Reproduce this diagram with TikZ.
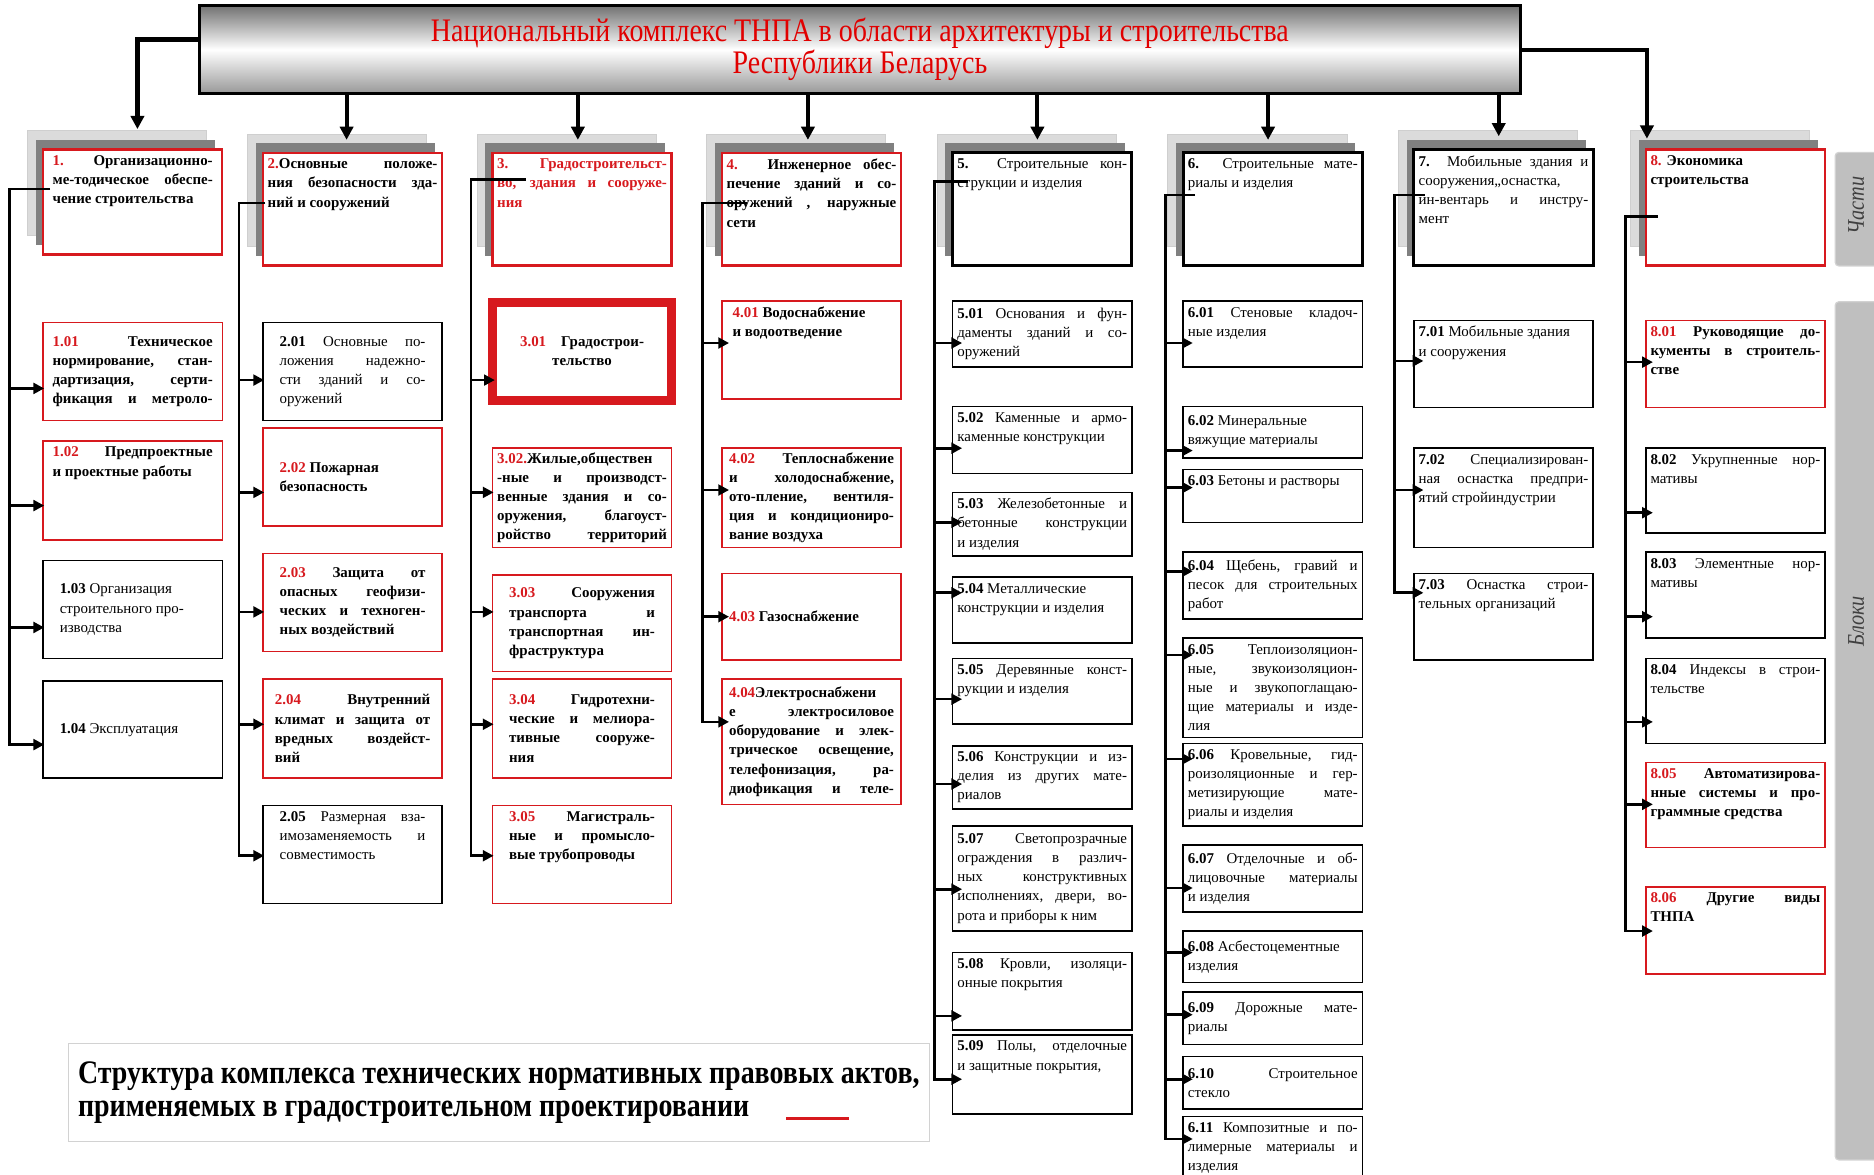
\documentclass[tikz,border=0pt]{standalone}
\usepackage{fontspec}
\setmainfont{Liberation Serif}
\newfontfamily\narrowfont[FakeStretch=0.85]{Liberation Serif}
\usetikzlibrary{positioning,arrows.meta,shadows}
\definecolor{tnred}{RGB}{215,25,30}
\definecolor{titlered}{RGB}{225,0,0}
\newcommand\rn[1]{\textcolor{tnred}{\textbf{#1}}}
\newcommand\bx[8][t]{\node[#2] (#3) at (#4,#5) {\parbox[c][\dimexpr#6pt-10pt\relax][#1]{142pt}{\leftskip=#7pt \rightskip=#7pt \tolerance=10000 \hyphenpenalty=10000 \exhyphenpenalty=10000 \relax #8}};}

\begin{document}
\begin{tikzpicture}[x=1pt,y=-1pt,
    redbox/.style={draw=tnred, line width=1.3pt, fill=white, anchor=north west, outer sep=0pt, inner xsep=4pt, inner ysep=5pt, font=\fontsize{12.5}{16}\selectfont\bfseries},
    blackbox/.style={redbox, draw=black, font=\fontsize{12.5}{16}\selectfont},
    headshadow/.style={copy shadow={shadow xshift=-13pt, shadow yshift=16pt, fill=gray!28, draw=gray!38, line width=0.6pt}, copy shadow={shadow xshift=-6pt, shadow yshift=8pt, fill=gray, draw=none}},
    redhead/.style={redbox, line width=2pt, headshadow},
    blackhead/.style={blackbox, line width=2.5pt, headshadow},
    title/.style={draw=black, line width=2.5pt, top color=black!55, bottom color=black!40, middle color=white, minimum width=1105pt, minimum height=73pt, outer sep=0pt, align=center, text=titlered, font=\narrowfont\fontsize{27.5}{25}\selectfont},
    main/.style={line width=3.5pt, -{Triangle[length=11pt,width=11pt]}},
    feed/.style={line width=2.2pt, -{Triangle[length=9pt,width=9pt]}},
    tab/.style={draw=gray!35, line width=1pt, fill=gray!50, rounded corners=3pt, anchor=north west, minimum width=38pt},
    tabtext/.style={rotate=90, text=black!75, font=\narrowfont\itshape\fontsize{20}{20}\selectfont}]

    \useasboundingbox (0,0) rectangle (1568,983);

    \node[title] (title) at (719.5,41.5) {Национальный комплекс ТНПА в области архитектуры и строительства\\Республики Беларусь};

    \node[tab, minimum height=95pt] (partstab) at (1535,127) {};
    \node[tabtext] (partslbl) at (1553,172) {Части};
    \node[tab, minimum height=718pt] (blockstab) at (1535,252) {};
    \node[tabtext] (blockslbl) at (1553,520) {Блоки};

    \bx{redhead}{b1}{36}{125}{88}{4}{\rn{1.} Организационно-\linebreak ме-тодическое обеспе-\linebreak чение строительства}
    \bx{redhead}{b2}{220}{128}{94}{0}{\rn{2.}Основные положе-\linebreak ния безопасности зда-\linebreak ний и сооружений}
    \bx{redhead}{b3}{412}{128}{94}{0}{\color{tnred}3. Градостроительст-\linebreak во, здания и сооруже-\linebreak ния}
    \bx{redhead}{b4}{604}{128}{94}{0}{\rn{4.} Инженерное обес-\linebreak печение зданий и со-\linebreak оружений , наружные\linebreak сети}
    \bx{blackhead}{b5}{797}{128}{94}{0}{\textbf{5.} Строительные кон-\linebreak струкции и изделия}
    \bx{blackhead}{b6}{990}{128}{94}{0}{\textbf{6.} Строительные мате-\linebreak риалы и изделия}
    \bx{blackhead}{b7}{1183}{125}{97}{0}{\textbf{7.} Мобильные здания и\linebreak сооружения,,оснастка,\linebreak ин-вентарь и инстру-\linebreak мент}
    \bx{redhead}{b8}{1377}{125}{97}{0}{\rn{8.} Экономика\newline строительства}

    \bx[c]{redbox}{b101}{36}{270}{82}{4}{\parfillskip=0pt \rn{1.01} Техническое\linebreak нормирование, стан-\linebreak дартизация, серти-\linebreak фикация и метроло-}
    \bx{redbox}{b102}{36}{369}{83}{4}{\rn{1.02} Предпроектные\linebreak и проектные работы}
    \bx[c]{blackbox}{b103}{36}{469}{82}{10}{\textbf{1.03} Организация\newline строительного про-\newline изводства}
    \bx[c]{blackbox}{b104}{36}{570}{81}{10}{\textbf{1.04} Эксплуатация}

    \bx[c]{blackbox}{b201}{220}{270}{82}{10}{\textbf{2.01} Основные по-\linebreak ложения надежно-\linebreak сти зданий и со-\linebreak оружений}
    \bx[c]{redbox}{b202}{220}{358}{82}{10}{\rn{2.02} Пожарная\newline безопасность}
    \bx[c]{redbox}{b203}{220}{463}{82}{10}{\rn{2.03} Защита от\linebreak опасных геофизи-\linebreak ческих и техноген-\linebreak ных воздействий}
    \bx[c]{redbox}{b204}{220}{568}{83}{6}{\rn{2.04} Внутренний\linebreak климат и защита от\linebreak вредных воздейст-\linebreak вий}
    \bx{blackbox}{b205}{220}{674}{82}{10}{\textbf{2.05} Размерная вза-\linebreak имозаменяемость и\linebreak совместимость}

    \bx[c]{redbox, line width=8pt}{b301}{412}{253}{82}{0}{\centering\rn{3.01}\quad Градострои-\\тельство}
    \bx[c]{redbox}{b302}{412}{375}{83}{0}{\parfillskip=0pt \rn{3.02.}Жилые,обществен\linebreak -ные и производст-\linebreak венные здания и со-\linebreak оружения, благоуст-\linebreak ройство территорий}
    \bx[c]{redbox}{b303}{412}{481}{81}{10}{\rn{3.03} Сооружения\linebreak транспорта и\linebreak транспортная ин-\linebreak фраструктура}
    \bx[c]{redbox}{b304}{412}{568}{83}{10}{\rn{3.04} Гидротехни-\linebreak ческие и мелиора-\linebreak тивные сооруже-\linebreak ния}
    \bx{redbox}{b305}{412}{674}{82}{10}{\rn{3.05} Магистраль-\linebreak ные и промысло-\linebreak вые трубопроводы}

    \bx{redbox}{b401}{604}{252}{82}{5}{\rn{4.01} Водоснабжение\newline и водоотведение}
    \bx[c]{redbox}{b402}{604}{375}{83}{2}{\rn{4.02} Теплоснабжение\linebreak и холодоснабжение,\linebreak ото-пление, вентиля-\linebreak ция и кондициониро-\linebreak вание воздуха}
    \bx[c]{redbox}{b403}{604}{480}{72}{2}{\rn{4.03} Газоснабжение}
    \bx[c]{redbox}{b404}{604}{568}{105}{2}{\parfillskip=0pt \rn{4.04}Электроснабжени\linebreak е электросиловое\linebreak оборудование и элек-\linebreak трическое освещение,\linebreak телефонизация, ра-\linebreak диофикация и теле-}

    \bx[c]{blackbox}{b501}{797}{252}{55}{0}{\textbf{5.01} Основания и фун-\linebreak даменты зданий и со-\linebreak оружений}
    \bx{blackbox}{b502}{797}{340}{56}{0}{\textbf{5.02} Каменные и армо-\linebreak каменные конструкции}
    \bx[c]{blackbox}{b503}{797}{412}{53}{0}{\textbf{5.03} Железобетонные и\linebreak бетонные конструкции\linebreak и изделия}
    \bx{blackbox}{b504}{797}{483}{55}{0}{\textbf{5.04} Металлические\newline конструкции и изделия}
    \bx{blackbox}{b505}{797}{551}{55}{0}{\textbf{5.05} Деревянные конст-\linebreak рукции и изделия}
    \bx[c]{blackbox}{b506}{797}{624}{53}{0}{\textbf{5.06} Конструкции и из-\linebreak делия из других мате-\linebreak риалов}
    \bx[c]{blackbox}{b507}{797}{691}{88}{0}{\textbf{5.07} Светопрозрачные\linebreak ограждения в различ-\linebreak ных конструктивных\linebreak исполнениях, двери, во-\linebreak рота и приборы к ним}
    \bx{blackbox}{b508}{797}{797}{65}{0}{\textbf{5.08} Кровли, изоляци-\linebreak онные покрытия}
    \bx{blackbox}{b509}{797}{866}{66}{0}{\textbf{5.09} Полы, отделочные\linebreak и защитные покрытия,}

    \bx{blackbox}{b601}{990}{252}{55}{0}{\textbf{6.01} Стеновые кладоч-\linebreak ные изделия}
    \bx[c]{blackbox}{b602}{990}{340}{43}{0}{\textbf{6.02} Минеральные\newline вяжущие материалы}
    \bx{blackbox}{b603}{990}{393}{44}{0}{\textbf{6.03} Бетоны и растворы}
    \bx[c]{blackbox}{b604}{990}{462}{56}{0}{\textbf{6.04} Щебень, гравий и\linebreak песок для строительных\linebreak работ}
    \bx[c]{blackbox}{b605}{990}{534}{83}{0}{\textbf{6.05} Теплоизоляцион-\linebreak ные, звукоизоляцион-\linebreak ные и звукопоглащаю-\linebreak щие материалы и изде-\linebreak лия}
    \bx[c]{blackbox}{b606}{990}{622}{69}{0}{\textbf{6.06} Кровельные, гид-\linebreak роизоляционные и гер-\linebreak метизирующие мате-\linebreak риалы и изделия}
    \bx[c]{blackbox}{b607}{990}{707}{56}{0}{\textbf{6.07} Отделочные и об-\linebreak лицовочные материалы\linebreak и изделия}
    \bx[c]{blackbox}{b608}{990}{779}{43}{0}{\textbf{6.08} Асбестоцементные\newline изделия}
    \bx[c]{blackbox}{b609}{990}{830}{44}{0}{\textbf{6.09} Дорожные мате-\linebreak риалы}
    \bx[c]{blackbox}{b610}{990}{884}{44}{0}{\textbf{6.10} Строительное\linebreak стекло}
    \bx{blackbox}{b611}{990}{934}{56}{0}{\textbf{6.11} Композитные и по-\linebreak лимерные материалы и\linebreak изделия}

    \bx{blackbox}{b701}{1183}{268}{73}{0}{\textbf{7.01} Мобильные здания\newline и сооружения}
    \bx{blackbox}{b702}{1183}{375}{83}{0}{\textbf{7.02} Специализирован-\linebreak ная оснастка предпри-\linebreak ятий стройиндустрии}
    \bx{blackbox}{b703}{1183}{480}{72}{0}{\textbf{7.03} Оснастка строи-\linebreak тельных организаций}

    \bx{redbox}{b801}{1377}{268}{73}{0}{\rn{8.01} Руководящие до-\linebreak кументы в строитель-\linebreak стве}
    \bx{blackbox}{b802}{1377}{375}{71}{0}{\textbf{8.02} Укрупненные нор-\linebreak мативы}
    \bx{blackbox}{b803}{1377}{462}{72}{0}{\textbf{8.03} Элементные нор-\linebreak мативы}
    \bx{blackbox}{b804}{1377}{551}{71}{0}{\textbf{8.04} Индексы в строи-\linebreak тельстве}
    \bx{redbox}{b805}{1377}{638}{71}{0}{\rn{8.05} Автоматизирова-\linebreak нные системы и про-\linebreak граммные средства}
    \bx{redbox}{b806}{1377}{742}{73}{0}{\rn{8.06} Другие виды\linebreak ТНПА}

    \node[draw=gray!35, line width=0.8pt, anchor=north west, minimum width=720pt, minimum height=82pt, align=left, font=\narrowfont\bfseries\fontsize{27.5}{28}\selectfont] (caption) at (57,873) {Структура комплекса технических нормативных правовых актов,\\применяемых в градостроительном проектировании};
    \draw[tnred, line width=2.5pt] (658,936) -- (710,936);

    \draw[main] ([yshift=8.5pt]title.west) -| ([xshift=4pt,yshift=17pt]b1.north);
    \draw[main] ([xshift=-5pt]b2.north |- title.south) -- ([xshift=-5pt,yshift=11pt]b2.north);
    \draw[main] ([xshift=-3.5pt]b3.north |- title.south) -- ([xshift=-3.5pt,yshift=11pt]b3.north);
    \draw[main] ([xshift=-3pt]b4.north |- title.south) -- ([xshift=-3pt,yshift=11pt]b4.north);
    \draw[main] ([xshift=-4pt]b5.north |- title.south) -- ([xshift=-4pt,yshift=11pt]b5.north);
    \draw[main] ([xshift=-4pt]b6.north |- title.south) -- ([xshift=-4pt,yshift=11pt]b6.north);
    \draw[main] ([xshift=-4pt]b7.north |- title.south) -- ([xshift=-4pt,yshift=11pt]b7.north);
    \draw[main] (title.east) -| ([xshift=1pt,yshift=9pt]b8.north west);

    \coordinate (k1) at (8,158);
    \coordinate (k2) at (200,170);
    \coordinate (k3) at (394,150);
    \coordinate (k4) at (588,170);
    \coordinate (k5) at (782,152);
    \coordinate (k6) at (975,163);
    \coordinate (k7) at (1167,163);
    \coordinate (k8) at (1360,181);

    \draw[feed] ([xshift=6pt]b1.west |- k1) -- (k1) |- ([xshift=1pt,yshift=-12.5pt]b104.west);
    \draw[feed] ([yshift=-14pt]b101.west -| k1) -- ([xshift=1pt,yshift=-14pt]b101.west);
    \draw[feed] ([yshift=-12.5pt]b102.west -| k1) -- ([xshift=1pt,yshift=-12.5pt]b102.west);
    \draw[feed] ([yshift=-15pt]b103.west -| k1) -- ([xshift=1pt,yshift=-15pt]b103.west);

    \draw[feed] ([xshift=2pt]b2.west |- k2) -- (k2) |- ([xshift=1pt,yshift=-1pt]b205.west);
    \draw[feed] ([yshift=-7pt]b201.west -| k2) -- ([xshift=1pt,yshift=-7pt]b201.west);
    \draw[feed] ([yshift=-13pt]b202.west -| k2) -- ([xshift=1pt,yshift=-13pt]b202.west);
    \draw[feed] ([yshift=-8pt]b203.west -| k2) -- ([xshift=1pt,yshift=-8pt]b203.west);
    \draw[feed] ([yshift=3.5pt]b204.west -| k2) -- ([xshift=1pt,yshift=3.5pt]b204.west);

    \draw[feed] ([xshift=28pt]b3.west |- k3) -- (k3) |- ([xshift=1pt,yshift=-1pt]b305.west);
    \draw[feed] ([yshift=-24pt]b301.west -| k3) -- ([xshift=2pt,yshift=-24pt]b301.west);
    \draw[feed] ([yshift=4.5pt]b302.west -| k3) -- ([xshift=1pt,yshift=4.5pt]b302.west);
    \draw[feed] ([yshift=9.5pt]b303.west -| k3) -- ([xshift=1pt,yshift=9.5pt]b303.west);
    \draw[feed] ([yshift=3.5pt]b304.west -| k3) -- ([xshift=1pt,yshift=3.5pt]b304.west);

    \draw[feed] ([xshift=21pt]b4.west |- k4) -- (k4) |- ([xshift=6pt,yshift=16.5pt]b404.west);
    \draw[feed] ([yshift=6pt]b401.west -| k4) -- ([xshift=6pt,yshift=6pt]b401.west);
    \draw[feed] ([yshift=6.5pt]b402.west -| k4) -- ([xshift=6pt,yshift=6.5pt]b402.west);
    \draw[feed] (b403.west -| k4) -- ([xshift=6pt]b403.west);

    \draw[feed] ([xshift=13pt]b5.west |- k5) -- (k5) |- ([xshift=8pt,yshift=-4pt]b509.west);
    \draw[feed] ([yshift=-7.5pt]b501.west -| k5) -- ([xshift=8pt,yshift=-7.5pt]b501.west);
    \draw[feed] ([yshift=-7pt]b502.west -| k5) -- ([xshift=8pt,yshift=-7pt]b502.west);
    \draw[feed] ([yshift=1.5pt]b503.west -| k5) -- ([xshift=8pt,yshift=1.5pt]b503.west);
    \draw[feed] ([yshift=14.5pt]b504.west -| k5) -- ([xshift=8pt,yshift=14.5pt]b504.west);
    \draw[feed] ([yshift=-6.5pt]b505.west -| k5) -- ([xshift=8pt,yshift=-6.5pt]b505.west);
    \draw[feed] ([yshift=-5.5pt]b506.west -| k5) -- ([xshift=8pt,yshift=-5.5pt]b506.west);
    \draw[feed] ([yshift=-9pt]b507.west -| k5) -- ([xshift=8pt,yshift=-9pt]b507.west);
    \draw[feed] ([yshift=-20.5pt]b508.west -| k5) -- ([xshift=8pt,yshift=-20.5pt]b508.west);

    \draw[feed] ([xshift=10pt]b6.west |- k6) -- (k6) |- ([xshift=8pt,yshift=9pt]b611.west);
    \draw[feed] ([yshift=-7.5pt]b601.west -| k6) -- ([xshift=8pt,yshift=-7.5pt]b601.west);
    \draw[feed] ([yshift=-15.5pt]b602.west -| k6) -- ([xshift=8pt,yshift=-15.5pt]b602.west);
    \draw[feed] ([yshift=7pt]b603.west -| k6) -- ([xshift=8pt,yshift=7pt]b603.west);
    \draw[feed] ([yshift=12pt]b604.west -| k6) -- ([xshift=8pt,yshift=12pt]b604.west);
    \draw[feed] ([yshift=27.5pt]b605.west -| k6) -- ([xshift=8pt,yshift=27.5pt]b605.west);
    \draw[feed] ([yshift=21.5pt]b606.west -| k6) -- ([xshift=8pt,yshift=21.5pt]b606.west);
    \draw[feed] ([yshift=-8pt]b607.west -| k6) -- ([xshift=8pt,yshift=-8pt]b607.west);
    \draw[feed] ([yshift=3.5pt]b608.west -| k6) -- ([xshift=8pt,yshift=3.5pt]b608.west);
    \draw[feed] ([yshift=3pt]b609.west -| k6) -- ([xshift=8pt,yshift=3pt]b609.west);
    \draw[feed] ([yshift=3pt]b610.west -| k6) -- ([xshift=8pt,yshift=3pt]b610.west);

    \draw[feed] ([xshift=9pt]b7.west |- k7) -- (k7) |- ([xshift=8pt,yshift=20pt]b703.west);
    \draw[feed] ([yshift=2.5pt]b701.west -| k7) -- ([xshift=8pt,yshift=2.5pt]b701.west);
    \draw[feed] ([yshift=6.5pt]b702.west -| k7) -- ([xshift=8pt,yshift=6.5pt]b702.west);

    \draw[feed] ([xshift=10pt]b8.west |- k8) -- (k8) |- ([xshift=6pt,yshift=-0.5pt]b806.west);
    \draw[feed] ([yshift=1.5pt]b801.west -| k8) -- ([xshift=6pt,yshift=1.5pt]b801.west);
    \draw[feed] ([yshift=-18.5pt]b802.west -| k8) -- ([xshift=6pt,yshift=-18.5pt]b802.west);
    \draw[feed] ([yshift=-18pt]b803.west -| k8) -- ([xshift=6pt,yshift=-18pt]b803.west);
    \draw[feed] ([yshift=-17.5pt]b804.west -| k8) -- ([xshift=6pt,yshift=-17.5pt]b804.west);
    \draw[feed] ([yshift=0.5pt]b805.west -| k8) -- ([xshift=6pt,yshift=0.5pt]b805.west);
\end{tikzpicture}
\end{document}
